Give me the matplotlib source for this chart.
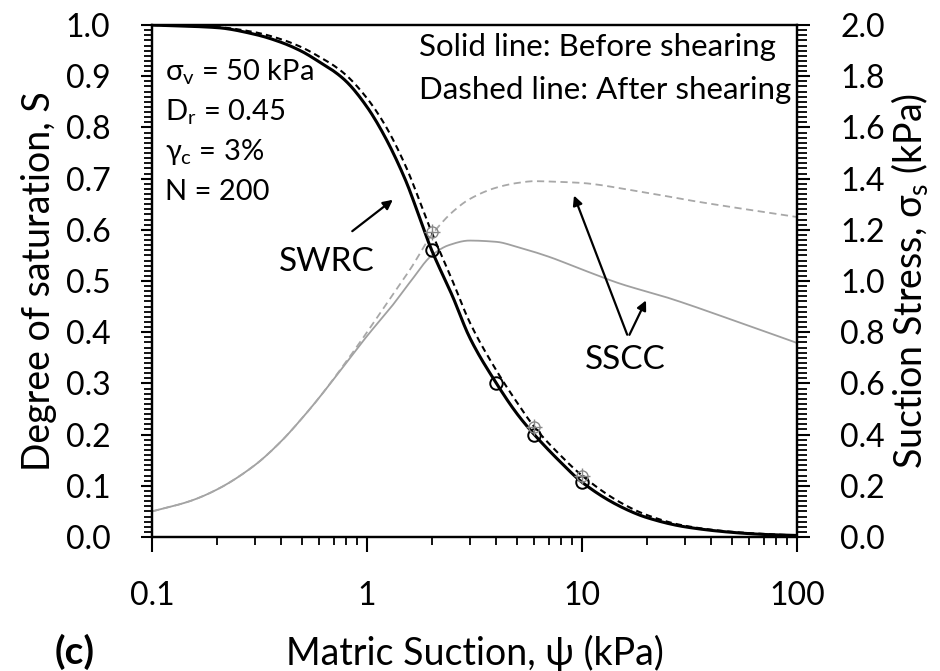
import numpy as np
import matplotlib
matplotlib.use("Agg")
import matplotlib.pyplot as plt
from matplotlib.ticker import MultipleLocator, LogLocator, NullFormatter, FixedLocator, FormatStrFormatter

plt.rcParams["font.family"] = ["Lato", "DejaVu Sans"]
plt.rcParams["mathtext.fontset"] = "custom"
plt.rcParams["mathtext.rm"] = "Lato"
plt.rcParams["mathtext.it"] = "Lato"
plt.rcParams["ytick.major.pad"] = 22
plt.rcParams["xtick.major.pad"] = 21
plt.rcParams["xtick.labelsize"] = 23
plt.rcParams["ytick.labelsize"] = 23

# SWRC: degree of saturation vs matric suction
psi = [0.1, 0.2, 0.3, 0.4, 0.5, 0.6, 0.7, 0.8, 1.0, 1.2, 1.5, 2, 2.5, 3, 4, 5, 6,
       8, 10, 15, 20, 30, 50, 70, 100]
S_before = [1.0, 0.995, 0.982, 0.966, 0.948, 0.928, 0.91, 0.89, 0.84, 0.785, 0.70,
            0.56, 0.47, 0.39, 0.30, 0.24, 0.20, 0.145, 0.107, 0.06, 0.038, 0.02,
            0.009, 0.005, 0.003]
S_after = [1.0, 0.996, 0.986, 0.972, 0.956, 0.938, 0.921, 0.902, 0.857, 0.808, 0.728,
           0.595, 0.50, 0.42, 0.325, 0.262, 0.215, 0.158, 0.12, 0.068, 0.043, 0.022,
           0.01, 0.006, 0.003]

# SSCC: suction stress vs matric suction
psi_s = [0.1, 0.15, 0.2, 0.3, 0.4, 0.5, 0.6, 0.8, 1.0, 1.3, 1.6, 2.0, 2.4, 3.0, 4.0,
         5.0, 7.0, 10, 15, 25, 50, 100]
ss_before = [0.10, 0.14, 0.185, 0.28, 0.375, 0.465, 0.545, 0.68, 0.785, 0.90, 1.0,
             1.10, 1.14, 1.158, 1.153, 1.133, 1.095, 1.045, 0.99, 0.935, 0.848, 0.758]
psi_d = [0.1, 0.15, 0.2, 0.3, 0.4, 0.5, 0.6, 0.8, 1.0, 1.3, 1.6, 2.0, 2.5, 3.0, 4.0,
         5.0, 6.0, 8.0, 10, 17, 35, 100]
ss_after = [0.10, 0.14, 0.185, 0.28, 0.375, 0.465, 0.545, 0.685, 0.80, 0.94, 1.05,
            1.18, 1.27, 1.32, 1.365, 1.383, 1.39, 1.387, 1.383, 1.355, 1.309, 1.25]

mark_before = [2, 4, 6, 10]
mark_after = [2, 6, 10]

params = ["$\\sigma_\\mathregular{v}$ = 50 kPa", "D$_\\mathregular{r}$ = 0.45",
          "$\\gamma_\\mathregular{c}$ = 3%", "N = 200"]


def smooth(xs, ys, n=400):
    # monotone cubic (pchip) through the read points, in log10(x)
    x = np.log10(np.asarray(xs, float))
    y = np.asarray(ys, float)
    h = np.diff(x)
    d = np.diff(y) / h
    m = np.zeros_like(y)
    for k in range(1, len(y) - 1):
        if d[k - 1] * d[k] > 0:
            w1 = 2 * h[k] + h[k - 1]
            w2 = h[k] + 2 * h[k - 1]
            m[k] = (w1 + w2) / (w1 / d[k - 1] + w2 / d[k])
    m[0], m[-1] = d[0], d[-1]
    xf = np.linspace(x[0], x[-1], n)
    i = np.clip(np.searchsorted(x, xf) - 1, 0, len(h) - 1)
    t = (xf - x[i]) / h[i]
    yf = ((2 * t**3 - 3 * t**2 + 1) * y[i] + (t**3 - 2 * t**2 + t) * h[i] * m[i]
          + (-2 * t**3 + 3 * t**2) * y[i + 1] + (t**3 - t**2) * h[i] * m[i + 1])
    return 10**xf, yf


fig = plt.figure(figsize=(9.4, 6.71), dpi=100)
ax = fig.add_axes([0.1617, 0.1997, 0.6862, 0.763])
ax2 = ax.twinx()

ax2.plot(*smooth(psi_s, ss_before), color="#a0a0a0", lw=1.3)
ax2.plot(*smooth(psi_d, ss_after), color="#a8a8a8", lw=1.3, ls=(0, (4, 2.5)))

xb, yb = smooth(psi, S_before)
xa, ya = smooth(psi, S_after)
ax.plot(xb, yb, color="black", lw=2.2, zorder=5)
ax.plot(xa, ya, color="black", lw=1.5, ls=(0, (3, 2)), zorder=5)

ax.plot(mark_before, np.interp(np.log10(mark_before), np.log10(xb), yb),
        ls="none", marker="o", ms=9, mfc="none", mec="black", mew=1.4, zorder=6)
ax.plot(mark_after, np.interp(np.log10(mark_after), np.log10(xa), ya),
        ls="none", marker="o", ms=8, mfc="none", mec="#888888", mew=1.0, zorder=6)
ax.plot(mark_after, np.interp(np.log10(mark_after), np.log10(xa), ya),
        ls="none", marker="+", ms=12, mec="#888888", mew=1.0, zorder=6)

ax.set_xscale("log")
ax.set_xlim(0.1, 100)
ax.set_ylim(0, 1.0)
ax2.set_ylim(0, 2.0)

ax.set_zorder(ax2.get_zorder() + 1)
ax.patch.set_visible(False)

ax.yaxis.set_major_locator(MultipleLocator(0.1))
ax.yaxis.set_minor_locator(MultipleLocator(0.01))
ax2.yaxis.set_major_locator(MultipleLocator(0.2))
ax2.yaxis.set_minor_locator(MultipleLocator(0.02))
ax.xaxis.set_major_locator(FixedLocator([0.1, 1, 10, 100]))
ax.xaxis.set_minor_locator(LogLocator(base=10, subs=np.arange(2, 10)))
ax.xaxis.set_minor_formatter(NullFormatter())
ax.set_xticklabels(["0.1", "1", "10", "100"])
ax.yaxis.set_major_formatter(FormatStrFormatter("%.1f"))
ax2.yaxis.set_major_formatter(FormatStrFormatter("%.1f"))

for a in (ax, ax2):
    for s in a.spines.values():
        s.set_linewidth(1.6)
ax.tick_params(axis="y", which="major", direction="out", length=8, width=1.5)
ax.tick_params(axis="x", which="major", direction="out", length=11, width=1.5)
ax.tick_params(axis="both", which="minor", direction="out", length=6, width=1.3)
ax2.tick_params(axis="y", which="major", direction="out", length=9, width=1.5)
ax2.tick_params(axis="y", which="minor", direction="out", length=7, width=1.3)

ax.set_xlabel("Matric Suction, ψ (kPa)", fontsize=27, labelpad=17)
ax.set_ylabel("Degree of saturation, S", fontsize=27, labelpad=6)
ax2.set_ylabel("Suction Stress, $\\sigma_\\mathregular{s}$ (kPa)", fontsize=27, labelpad=3)

for i, t in enumerate(params):
    fig.text(165 / 940, 1 - (72 + i * 40) / 671, t, fontsize=21, va="center", ha="left")

fig.text(419 / 940, 1 - 47 / 671, "Solid line: Before shearing", fontsize=22.5,
         ha="left", va="center")
fig.text(419 / 940, 1 - 90 / 671, "Dashed line: After shearing", fontsize=22.5,
         ha="left", va="center")

arrow = dict(arrowstyle="-|>", color="black", lw=1.6, mutation_scale=14)
ax.annotate("", xy=(1.35, 0.662), xytext=(0.834, 0.594), arrowprops=arrow)
fig.text(327 / 940, 1 - 262 / 671, "SWRC", fontsize=24, ha="center", va="center")

ax2.annotate("", xy=(9.08, 1.344), xytext=(16.4, 0.78), arrowprops=arrow)
ax2.annotate("", xy=(20.1, 0.934), xytext=(16.4, 0.78), arrowprops=arrow)
fig.text(625 / 940, 1 - 360 / 671, "SSCC", fontsize=24, ha="center", va="center")

fig.text(55 / 940, 1 - 652 / 671, "(c)", fontsize=28, fontweight="bold",
         ha="left", va="center")

fig.savefig("out.png", dpi=100, facecolor="white")
